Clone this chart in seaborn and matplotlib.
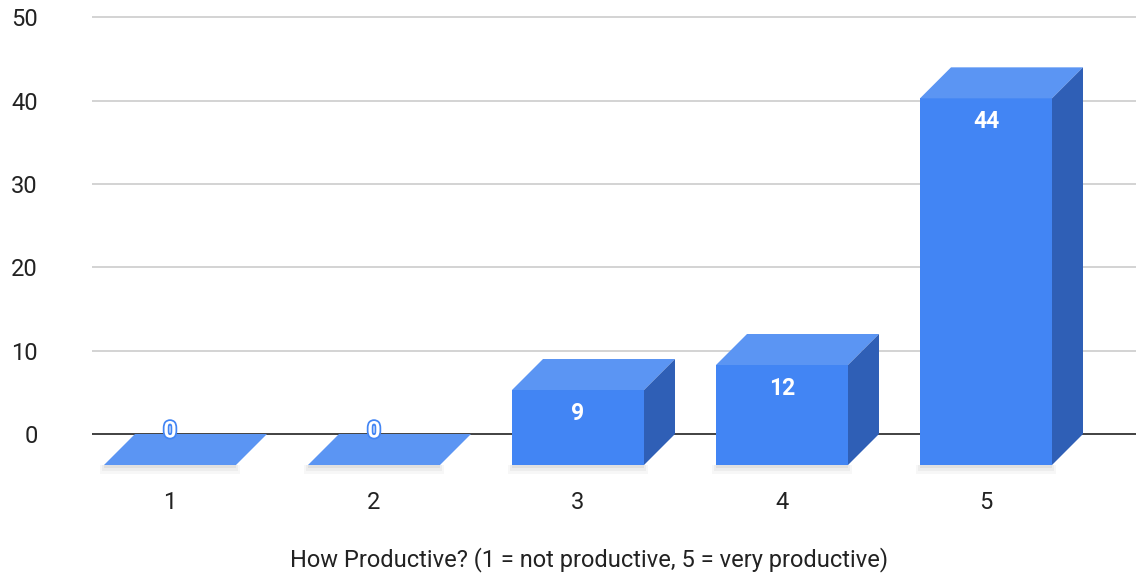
import matplotlib
matplotlib.use("Agg")
import matplotlib.pyplot as plt
import matplotlib.patheffects as pe
from matplotlib.patches import Polygon
from matplotlib.transforms import Affine2D
import seaborn as sns

categories = ["1", "2", "3", "4", "5"]
counts = [0, 0, 9, 12, 44]
y_ticks = [0, 10, 20, 30, 40, 50]
x_label = "How Productive? (1 = not productive, 5 = very productive)"

FRONT = "#4285f4"
TOP = "#5b95f3"
SIDE = "#2f5fb6"

sns.set_theme(style="white")
plt.rcParams["font.family"] = ["Roboto", "DejaVu Sans"]

W, H = 1136, 579
fig = plt.figure(figsize=(W / 100, H / 100), dpi=100)
ax_left, ax_right, ax_top, ax_bot = 92, 1136, 12, 480
ax = fig.add_axes([ax_left / W, (H - ax_bot) / H, (ax_right - ax_left) / W, (ax_bot - ax_top) / H])

k = 8.333          # pixels per data unit
cat_px = 204.0     # pixels per category
zero_px = 434
front0_px = 170
depth_px = 31
ddx = depth_px / cat_px
ddy = depth_px / k

sns.barplot(x=categories, y=counts, color=FRONT, saturation=1, width=132 / cat_px,
            linewidth=0, ax=ax, zorder=3)

ax.set_ylim((zero_px - ax_bot) / k, (zero_px - ax_top) / k)
ax.set_xlim((ax_left - front0_px) / cat_px, (ax_right - front0_px) / cat_px)

shift = Affine2D().translate(0, -ddy) + ax.transData
bars = list(ax.patches)
for p, v in zip(bars, counts):
    p.set_transform(shift)
    x0, w, h = p.get_x(), p.get_width(), p.get_height()
    # faint shadow under the bar
    for i, a in enumerate([0.05, 0.04, 0.03]):
        sh = Polygon([(x0 - 0.01 * i, -ddy), (x0 + w + 0.01 * i, -ddy),
                      (x0 + w + 0.01 * i, -ddy - 0.35 * (i + 1)), (x0 - 0.01 * i, -ddy - 0.35 * (i + 1))],
                     closed=True, facecolor="#000000", alpha=a, edgecolor="none", zorder=2.5)
        ax.add_patch(sh)
    top = Polygon([(x0, h - ddy), (x0 + w, h - ddy), (x0 + w + ddx, h), (x0 + ddx, h)],
                  closed=True, facecolor=TOP, edgecolor="none", zorder=3)
    ax.add_patch(top)
    if h > 0:
        side = Polygon([(x0 + w, h - ddy), (x0 + w, -ddy), (x0 + w + ddx, 0), (x0 + w + ddx, h)],
                       closed=True, facecolor=SIDE, edgecolor="none", zorder=3)
        ax.add_patch(side)
    cx = x0 + w / 2
    if h > 3:
        ax.annotate(f"{v}", (cx, h - ddy), xytext=(0, -23), textcoords="offset pixels",
                    ha="center", va="center", color="white", fontsize=16.5,
                    fontweight="bold", zorder=5)
    else:
        ax.annotate(f"{v}", (cx, h - ddy), xytext=(0, 34), textcoords="offset pixels",
                    ha="center", va="center", color="white", fontsize=16.5,
                    fontweight="bold", zorder=5,
                    path_effects=[pe.withStroke(linewidth=2.5, foreground=FRONT)])

for t in y_ticks[1:]:
    ax.axhline(t, color="#cccccc", lw=1.2, zorder=1)
ax.axhline(0, color="#333333", lw=1.3, zorder=2)

ax.set_yticks(y_ticks)
ax.set_yticklabels([str(t) for t in y_ticks])
for s in ax.spines.values():
    s.set_visible(False)
ax.tick_params(axis="y", length=0, pad=39, labelsize=17, labelcolor="#222222")
ax.tick_params(axis="x", length=0, pad=8, labelsize=17, labelcolor="#222222")
for lbl in ax.get_yticklabels():
    lbl.set_horizontalalignment("right")
ax.set_ylabel("")
ax.set_xlabel(x_label, fontsize=17, color="#222222")
ax.xaxis.set_label_coords((589 - ax_left) / (ax_right - ax_left), (ax_bot - 547) / (ax_bot - ax_top))

fig.savefig("out.png", dpi=100, facecolor="white")
